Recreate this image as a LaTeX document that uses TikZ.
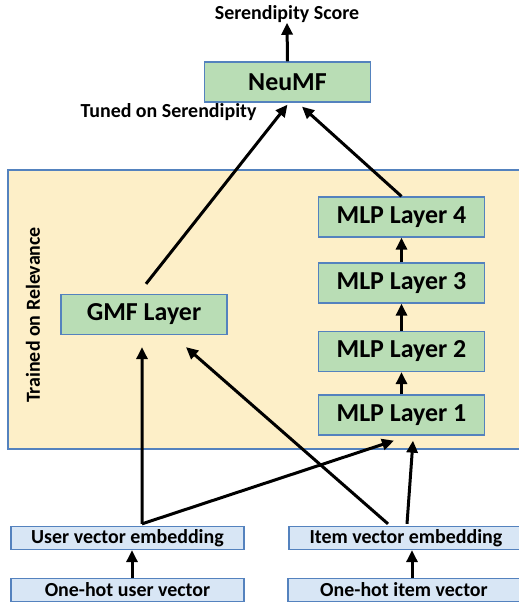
\documentclass[tikz,border=0pt]{standalone}
\usepackage{fontspec}
\setmainfont{Carlito}
\usetikzlibrary{calc,arrows.meta}
\definecolor{boxedge}{RGB}{84,130,190}
\definecolor{layergreen}{RGB}{185,221,181}
\definecolor{embblue}{RGB}{216,230,245}
\definecolor{zonebg}{RGB}{253,239,200}
\tikzset{
  layer/.style={draw=boxedge, line width=1.3bp, fill=layergreen, inner sep=0pt,
    minimum width=166bp, minimum height=40bp,
    font=\fontsize{26}{30}\selectfont\bfseries},
  embbox/.style={draw=boxedge, line width=1.3bp, fill=embblue, inner sep=0pt,
    minimum width=233bp, minimum height=23bp,
    font=\fontsize{20}{24}\selectfont\bfseries},
  caption/.style={inner sep=0pt, font=\fontsize{20}{24}\selectfont\bfseries},
  link/.style={line width=3bp, -{Triangle[length=12bp,width=11bp]}},
}
\begin{document}
\begin{tikzpicture}[x=1bp,y=-1bp]
  \useasboundingbox (0,0) rectangle (519,605);
  \begin{scope}
    \clip (0,0) rectangle (519,605);
    % training zone
    \draw[draw=boxedge, line width=1.2bp, fill=zonebg] (8,170) rectangle (540,449);
    % layers
    \node[layer] (neumf) at (287.5,82) {NeuMF};
    \node[layer] (mlp4) at (401.5,217) {MLP Layer 4};
    \node[layer] (mlp3) at (401.5,283) {MLP Layer 3};
    \node[layer] (mlp2) at (401.5,351.5) {MLP Layer 2};
    \node[layer] (mlp1) at (401.5,415) {MLP Layer 1};
    \node[layer] (gmf) at (144,314.5) {GMF Layer};
    % inputs
    \node[embbox] (uemb) at (127.5,538) {User vector embedding};
    \node[embbox] (uhot) at (127.5,590) {One-hot user vector};
    \node[embbox, minimum width=234bp] (iemb) at (406,538) {Item vector embedding};
    \node[embbox, minimum width=232bp] (ihot) at (404,590) {One-hot item vector};
    % captions
    \node[caption] (score) at (287,14) {Serendipity Score};
    \node[caption] (tuned) at (168.5,112) {Tuned on Serendipity};
    \node[caption, rotate=90] (trained) at (33,315) {Trained on Relevance};
    % connectors
    \draw[link] (neumf.north) -- (score.south);
    \draw[link] ($(gmf.north)+(2,-10)$) -- ($(neumf.south)+(0,2)$);
    \draw[link] (mlp4.north) -- ($(neumf.south)+(14.5,4)$);
    \draw[link] (mlp3.north) -- (mlp4.south);
    \draw[link] (mlp2.north) -- (mlp3.south);
    \draw[link] (mlp1.north) -- (mlp2.south);
    \draw[link] ($(uemb.north)+(14.5,-2)$) -- ($(gmf.south)+(-2,12)$);
    \draw[link] ($(uemb.north)+(14.5,-2)$) -- ($(mlp1.south)+(-7.5,5)$);
    \draw[link] ($(iemb.north)+(-18,-2)$) -- ($(gmf.south)+(42,12)$);
    \draw[link] ($(iemb.north)+(1,-2)$) -- ($(mlp1.south)+(11.5,5)$);
    \draw[link] ($(uhot.north)+(4.5,0)$) -- ($(uemb.south)+(4.5,0)$);
    \draw[link] ($(ihot.north)+(8,0)$) -- ($(iemb.south)+(6,0)$);
  \end{scope}
\end{tikzpicture}
\end{document}
